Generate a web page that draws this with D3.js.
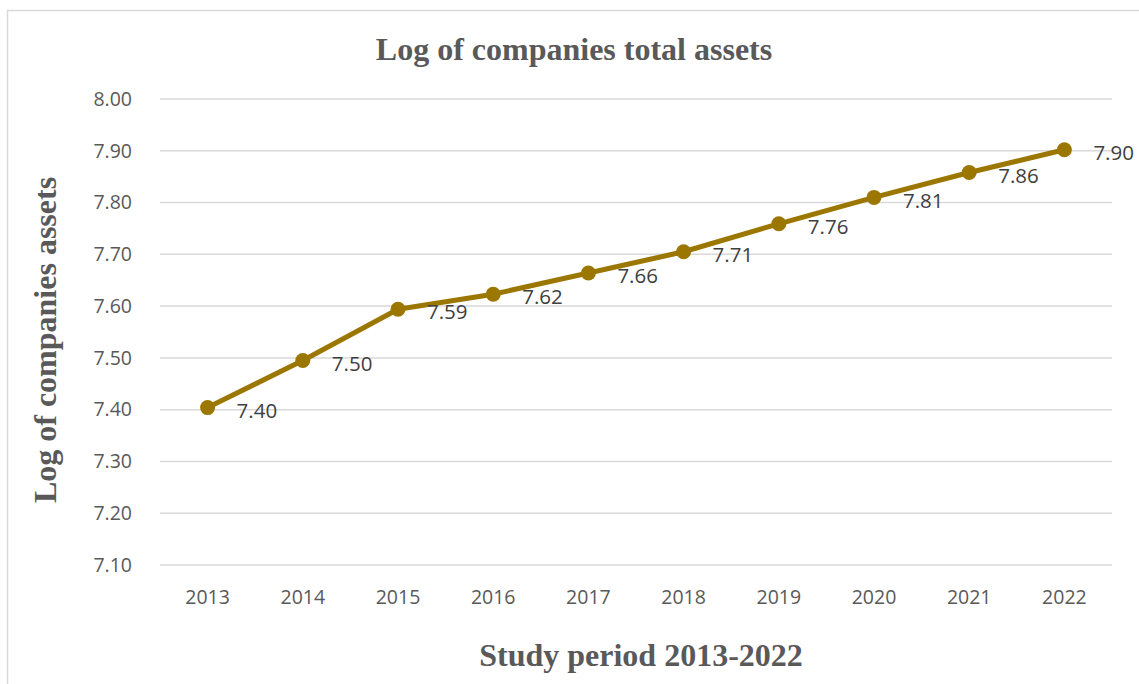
<!DOCTYPE html>
<html lang="en">
<head>
<meta charset="UTF-8">
<title>Log of companies total assets</title>
<script src="https://d3js.org/d3.v7.min.js"></script>
<style>
    body { margin: 0; padding: 0; background: #fff; }
    svg { display: block; }
    .grid line { stroke: #d9d9d9; stroke-width: 1.5; }
    .tick-label { font-family: "Open Sans", "Noto Sans", sans-serif; font-size: 19.5px; fill: #595959; }
    .data-label { font-family: "Open Sans", "Noto Sans", sans-serif; font-size: 20.5px; fill: #404040; }
    .title { font-family: "Liberation Serif", "Times New Roman", serif; font-weight: bold; fill: #595959; }
</style>
</head>
<body>
<svg width="1139" height="684"></svg>
<script>
    // chart data
    const years = ["2013", "2014", "2015", "2016", "2017", "2018", "2019", "2020", "2021", "2022"];
    const logAssets = [7.404, 7.495, 7.594, 7.623, 7.664, 7.705, 7.759, 7.810, 7.858, 7.902];
    const yTicks = [7.10, 7.20, 7.30, 7.40, 7.50, 7.60, 7.70, 7.80, 7.90, 8.00];

    const margin = { top: 99, right: 27, bottom: 119, left: 160 };
    const width = 1139 - margin.left - margin.right;
    const height = 684 - margin.top - margin.bottom;

    const svg = d3.select("svg");

    // outer chart border
    svg.append("rect")
        .attr("x", 7.5).attr("y", 10.5)
        .attr("width", 1150).attr("height", 700)
        .attr("fill", "none")
        .attr("stroke", "#d9d9d9")
        .attr("stroke-width", 1.5);

    const g = svg.append("g").attr("transform", `translate(${margin.left},${margin.top})`);

    const x = d3.scaleBand().domain(years).range([0, width]);
    const y = d3.scaleLinear().domain([7.1, 8.0]).range([height, 0]);

    // gridlines
    g.append("g").attr("class", "grid")
        .selectAll("line")
        .data(yTicks)
        .enter().append("line")
        .attr("x1", 0).attr("x2", width)
        .attr("y1", d => y(d)).attr("y2", d => y(d));

    // y tick labels
    g.append("g").selectAll("text")
        .data(yTicks)
        .enter().append("text")
        .attr("class", "tick-label")
        .attr("x", -28)
        .attr("y", d => y(d))
        .attr("dy", "0.35em")
        .attr("text-anchor", "end")
        .text(d => d3.format(".2f")(d));

    // x tick labels
    g.append("g").selectAll("text")
        .data(years)
        .enter().append("text")
        .attr("class", "tick-label")
        .attr("x", d => x(d) + x.bandwidth() / 2)
        .attr("y", height + 39)
        .attr("text-anchor", "middle")
        .text(d => d);

    const pts = years.map((yr, i) => ({ year: yr, value: logAssets[i] }));

    // line
    g.append("path")
        .datum(pts)
        .attr("fill", "none")
        .attr("stroke", "#9c7700")
        .attr("stroke-width", 5)
        .attr("stroke-linejoin", "round")
        .attr("d", d3.line()
            .x(d => x(d.year) + x.bandwidth() / 2)
            .y(d => y(d.value)));

    // markers
    g.selectAll(".dot")
        .data(pts)
        .enter().append("circle")
        .attr("class", "dot")
        .attr("cx", d => x(d.year) + x.bandwidth() / 2)
        .attr("cy", d => y(d.value))
        .attr("r", 7.5)
        .attr("fill", "#9c7700");

    // data labels
    g.selectAll(".data-label")
        .data(pts)
        .enter().append("text")
        .attr("class", "data-label")
        .attr("x", d => x(d.year) + x.bandwidth() / 2 + 29)
        .attr("y", d => y(d.value) + 3)
        .attr("dy", "0.35em")
        .text(d => d3.format(".2f")(d.value));

    // titles
    svg.append("text")
        .attr("class", "title")
        .attr("x", 574).attr("y", 60)
        .attr("text-anchor", "middle")
        .style("font-size", "32px")
        .text("Log of companies total assets");

    svg.append("text")
        .attr("class", "title")
        .attr("x", 641).attr("y", 666)
        .attr("text-anchor", "middle")
        .style("font-size", "32px")
        .text("Study period 2013-2022");

    svg.append("text")
        .attr("class", "title")
        .attr("transform", "translate(56,340) rotate(-90)")
        .attr("text-anchor", "middle")
        .style("font-size", "32px")
        .text("Log of companies assets");
</script>
</body>
</html>
